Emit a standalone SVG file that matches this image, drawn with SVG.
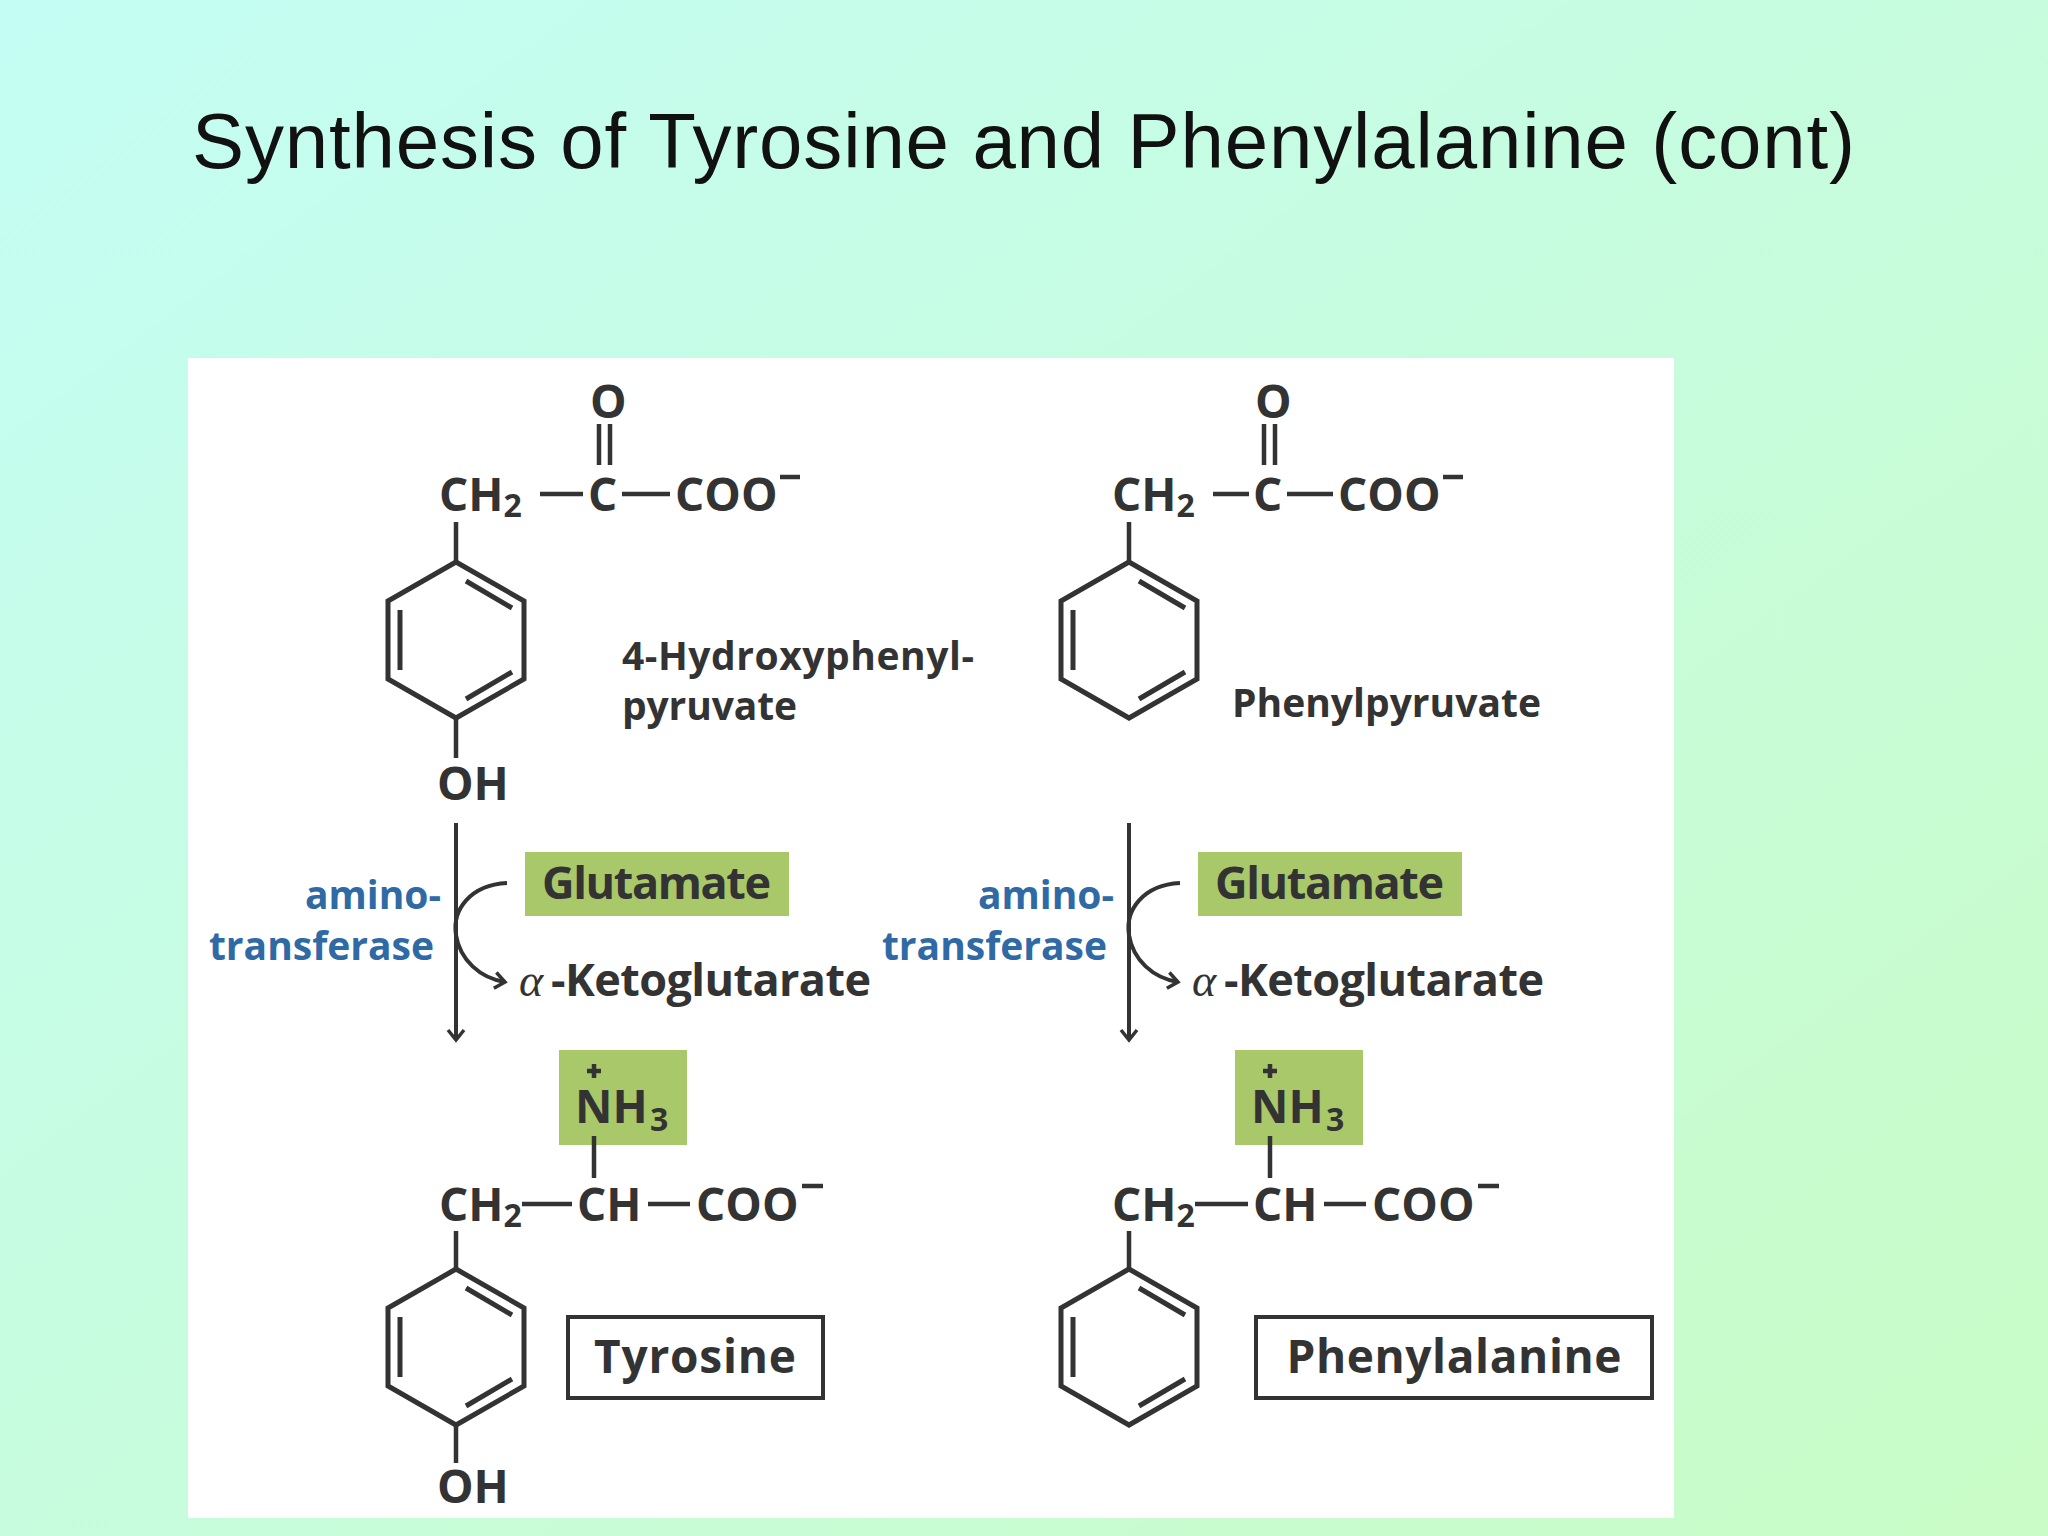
<svg xmlns="http://www.w3.org/2000/svg" width="2048" height="1536" viewBox="0 0 2048 1536">
<defs>
<linearGradient id="bg" x1="0" y1="0" x2="1" y2="1">
<stop offset="0" stop-color="#c4fdf4"/><stop offset="1" stop-color="#c9fcc6"/>
</linearGradient>
<marker id="ah" viewBox="0 0 20 20" refX="17" refY="10" markerWidth="20" markerHeight="20" markerUnits="userSpaceOnUse" orient="auto">
<path d="M7,2 L17,10 L7,18" fill="none" stroke="#333" stroke-width="3.5"/>
</marker>
<g id="ring" fill="none" stroke="#333" stroke-width="5">
<polygon points="0,-78 68,-39 68,39 0,78 -68,39 -68,-39"/>
<line x1="10" y1="-59" x2="56" y2="-32"/>
<line x1="10" y1="59" x2="56" y2="32"/>
<line x1="-56" y1="-30" x2="-56" y2="30"/>
</g>
</defs>
<style>
.t{font-family:"Open Sans","Liberation Sans",sans-serif;font-weight:700;fill:#333}
.c{font-size:46px}
.s{font-size:32px}
.l{font-size:39px}
.m{font-size:45px}
.b{fill:#2f6aa5}
.g{fill:#a8c86a}
.bd{stroke:#333;stroke-width:4.5;fill:none}
</style>
<rect width="2048" height="1536" fill="url(#bg)"/>
<rect x="188" y="358" width="1486" height="1160" fill="#fff"/>
<text x="192" y="168" font-family="Liberation Sans,Arial,sans-serif" font-size="78" fill="#111" textLength="1663">Synthesis of Tyrosine and Phenylalanine (cont)</text>

<g id="hydroxyphenylpyruvate">
<text class="t c" x="439" y="511">CH<tspan class="s" dy="6">2</tspan></text>
<line class="bd" x1="540" y1="494" x2="583" y2="494"/>
<text class="t c" x="588" y="511">C</text>
<line class="bd" x1="622" y1="494" x2="670" y2="494"/>
<text class="t c" x="675" y="511">COO</text>
<line class="bd" x1="780" y1="477" x2="800" y2="477"/>
<text class="t c" x="590" y="418">O</text>
<line class="bd" x1="599" y1="424" x2="599" y2="465"/>
<line class="bd" x1="610" y1="424" x2="610" y2="465"/>
<line class="bd" x1="456" y1="522" x2="456" y2="564"/>
<use href="#ring" x="456" y="640"/>
<line class="bd" x1="456" y1="718" x2="456" y2="758"/>
<text class="t c" x="437" y="800">OH</text>
<text class="t l" x="622" y="670" textLength="352">4-Hydroxyphenyl-</text>
<text class="t l" x="622" y="720" textLength="175">pyruvate</text>
</g>

<g id="phenylpyruvate" transform="translate(673,0)">
<text class="t c" x="439" y="511">CH<tspan class="s" dy="6">2</tspan></text>
<line class="bd" x1="540" y1="494" x2="576" y2="494"/>
<text class="t c" x="580" y="511">C</text>
<line class="bd" x1="614" y1="494" x2="660" y2="494"/>
<text class="t c" x="665" y="511">COO</text>
<line class="bd" x1="770" y1="477" x2="790" y2="477"/>
<text class="t c" x="582" y="418">O</text>
<line class="bd" x1="591" y1="424" x2="591" y2="465"/>
<line class="bd" x1="602" y1="424" x2="602" y2="465"/>
<line class="bd" x1="456" y1="522" x2="456" y2="564"/>
<use href="#ring" x="456" y="640"/>
<text class="t l" x="559" y="717" textLength="309">Phenylpyruvate</text>
</g>

<g id="reaction-left">
<text class="t l b" x="441" y="909" text-anchor="end">amino-</text>
<text class="t l b" x="434" y="960" text-anchor="end">transferase</text>
<rect class="g" x="525" y="852" width="264" height="64"/>
<text class="t m" x="542" y="899" textLength="229">Glutamate</text>
<text x="519" y="996" font-family="Liberation Serif,serif" font-style="italic" font-size="46" fill="#333">α</text>
<text class="t m" x="551" y="996" textLength="320">-Ketoglutarate</text>
</g>
<g id="reaction-right" transform="translate(673,0)">
<text class="t l b" x="441" y="909" text-anchor="end">amino-</text>
<text class="t l b" x="434" y="960" text-anchor="end">transferase</text>
<rect class="g" x="525" y="852" width="264" height="64"/>
<text class="t m" x="542" y="899" textLength="229">Glutamate</text>
<text x="519" y="996" font-family="Liberation Serif,serif" font-style="italic" font-size="46" fill="#333">α</text>
<text class="t m" x="551" y="996" textLength="320">-Ketoglutarate</text>
</g>

<g id="connectors" fill="none" stroke="#333" stroke-width="4">
<line x1="456" y1="823" x2="456" y2="1040" marker-end="url(#ah)"/>
<path d="M507,883 C470,885 452,910 456,935 C460,960 480,978 505,982" marker-end="url(#ah)"/>
<line x1="1129" y1="823" x2="1129" y2="1040" marker-end="url(#ah)"/>
<path d="M1180,883 C1143,885 1125,910 1129,935 C1133,960 1153,978 1178,982" marker-end="url(#ah)"/>
</g>

<g id="tyrosine">
<rect class="g" x="559" y="1050" width="128" height="95"/>
<line class="bd" x1="587" y1="1071" x2="601" y2="1071"/>
<line class="bd" x1="594" y1="1064" x2="594" y2="1078"/>
<text class="t c" x="575" y="1123">NH</text>
<text class="t s" x="650" y="1131">3</text>
<line class="bd" x1="594" y1="1136" x2="594" y2="1178"/>
<text class="t c" x="439" y="1221">CH<tspan class="s" dy="6">2</tspan></text>
<line class="bd" x1="522" y1="1204" x2="572" y2="1204"/>
<text class="t c" x="577" y="1221">CH</text>
<line class="bd" x1="648" y1="1204" x2="690" y2="1204"/>
<text class="t c" x="696" y="1221">COO</text>
<line class="bd" x1="802" y1="1186" x2="823" y2="1186"/>
<line class="bd" x1="456" y1="1231" x2="456" y2="1269"/>
<use href="#ring" x="456" y="1347"/>
<line class="bd" x1="456" y1="1425" x2="456" y2="1463"/>
<text class="t c" x="437" y="1503">OH</text>
<rect x="568" y="1317" width="255" height="81" fill="none" stroke="#333" stroke-width="4"/>
<text class="t" x="695" y="1373" font-size="46" text-anchor="middle" textLength="202">Tyrosine</text>
</g>

<g id="phenylalanine" transform="translate(676,0)">
<rect class="g" x="559" y="1050" width="128" height="95"/>
<line class="bd" x1="587" y1="1071" x2="601" y2="1071"/>
<line class="bd" x1="594" y1="1064" x2="594" y2="1078"/>
<text class="t c" x="575" y="1123">NH</text>
<text class="t s" x="650" y="1131">3</text>
<line class="bd" x1="594" y1="1136" x2="594" y2="1178"/>
<text class="t c" x="436" y="1221">CH<tspan class="s" dy="6">2</tspan></text>
<line class="bd" x1="519" y1="1204" x2="572" y2="1204"/>
<text class="t c" x="577" y="1221">CH</text>
<line class="bd" x1="648" y1="1204" x2="690" y2="1204"/>
<text class="t c" x="696" y="1221">COO</text>
<line class="bd" x1="802" y1="1186" x2="823" y2="1186"/>
<line class="bd" x1="453" y1="1231" x2="453" y2="1269"/>
<use href="#ring" x="453" y="1347"/>
<rect x="580" y="1317" width="396" height="81" fill="none" stroke="#333" stroke-width="4"/>
<text class="t" x="778" y="1373" font-size="46" text-anchor="middle" textLength="335">Phenylalanine</text>
</g>
</svg>
